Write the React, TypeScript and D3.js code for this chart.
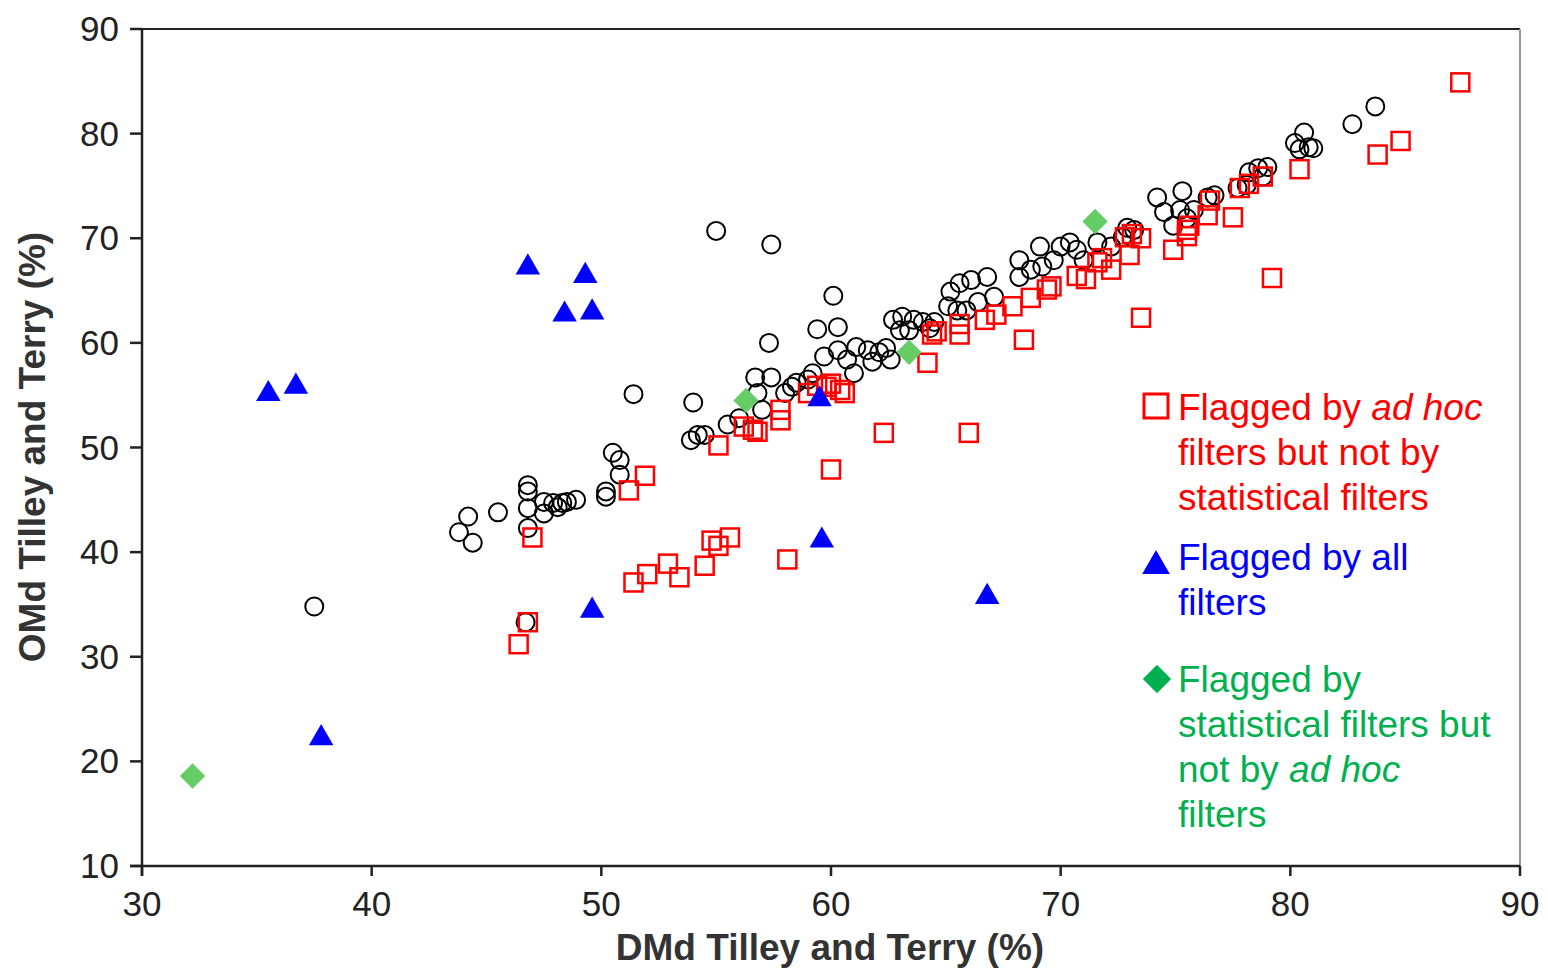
import React from "react";
import * as d3 from "d3";

// ---- Data ----
const xTicks = [30, 40, 50, 60, 70, 80, 90];
const yTicks = [10, 20, 30, 40, 50, 60, 70, 80, 90];

// Not flagged (black open circles): [DMd, OMd]
const unflagged: [number, number][] = [
  [37.5, 34.8], [43.8, 41.9], [44.2, 43.4], [44.4, 40.9], [45.5, 43.8],
  [46.8, 46.4], [46.8, 45.8], [46.8, 44.2], [46.8, 42.3], [46.7, 33.3],
  [47.5, 44.8], [47.5, 43.7], [47.9, 44.7], [48.1, 44.3], [48.3, 44.7],
  [48.5, 44.8], [48.9, 45.0], [50.2, 45.8], [50.2, 45.3], [50.5, 49.5],
  [50.8, 48.8], [50.8, 47.4], [51.4, 55.1], [53.9, 50.7], [54.2, 51.2],
  [54.5, 51.2], [54.0, 54.3], [55.0, 70.7], [55.5, 52.2], [56.0, 52.8],
  [56.7, 56.7], [57.4, 56.7], [56.8, 55.2], [57.0, 53.6], [57.4, 69.4],
  [57.3, 60.0], [58.0, 55.2], [58.3, 55.8], [59.0, 56.5], [58.5, 56.2],
  [59.2, 57.1], [59.7, 58.7], [59.4, 61.3], [60.3, 61.5], [60.1, 64.5],
  [60.3, 59.3], [60.7, 58.4], [61.0, 57.1], [61.1, 59.6], [61.6, 59.3],
  [61.8, 58.2], [62.1, 59.1], [62.4, 59.5], [62.6, 58.4], [62.7, 62.2],
  [63.1, 62.5], [63.6, 62.2], [64.0, 62.0], [63.0, 61.2], [63.4, 61.2],
  [64.5, 62.0], [64.3, 61.4], [65.2, 64.9], [65.6, 65.7], [65.1, 63.5],
  [65.5, 63.1], [66.1, 66.0], [66.8, 66.3], [66.4, 63.9], [67.1, 64.4],
  [65.9, 63.1], [68.2, 67.9], [68.7, 67.0], [68.2, 66.3], [69.2, 67.3],
  [69.1, 69.2], [69.7, 67.9], [70.0, 69.2], [70.4, 69.6], [70.7, 68.9],
  [71.0, 67.9], [71.6, 69.6], [72.2, 69.2], [72.7, 70.1], [73.2, 70.8],
  [72.9, 71.0], [74.2, 73.9], [75.3, 74.5], [74.5, 72.5], [75.2, 72.7],
  [74.9, 71.2], [75.5, 71.9], [75.8, 72.7], [76.4, 73.9], [76.7, 74.1],
  [77.7, 74.8], [78.1, 75.1], [78.2, 76.3], [78.6, 76.7], [79.0, 76.8],
  [78.8, 75.9], [80.6, 80.1], [80.2, 79.1], [80.8, 78.7], [80.4, 78.5],
  [81.0, 78.6], [82.7, 80.9], [83.7, 82.6],
];

// Flagged by ad hoc filters but not by statistical filters (red squares)
const adHocOnly: [number, number][] = [
  [46.4, 31.2], [46.8, 33.3], [47.0, 41.4], [51.2, 45.9], [51.9, 47.3],
  [51.4, 37.1], [52.0, 37.9], [52.9, 38.9], [53.4, 37.6], [54.5, 38.7],
  [54.8, 41.1], [55.1, 40.6], [55.6, 41.4], [55.1, 50.2], [56.2, 52.0],
  [56.6, 51.7], [56.8, 51.5], [57.8, 53.6], [57.8, 52.6], [58.1, 39.3],
  [59.0, 55.2], [59.4, 55.9], [59.8, 55.8], [60.0, 56.1], [60.4, 55.5],
  [60.6, 55.2], [60.0, 47.9], [62.3, 51.4], [64.2, 58.1], [64.4, 60.8],
  [64.6, 61.1], [65.6, 61.8], [65.6, 60.8], [66.0, 51.4], [66.7, 62.2],
  [67.2, 62.7], [67.9, 63.5], [68.4, 60.3], [68.7, 64.3], [69.4, 65.1],
  [69.6, 65.4], [70.7, 66.4], [71.1, 66.1], [71.6, 67.7], [72.2, 67.0],
  [71.8, 68.1], [73.0, 68.4], [72.8, 70.1], [73.1, 70.4], [73.5, 70.0],
  [73.5, 62.4], [74.9, 68.9], [75.5, 70.2], [75.6, 71.2], [75.5, 70.8],
  [76.4, 72.2], [76.5, 73.6], [77.5, 72.0], [77.8, 74.8], [78.2, 75.2],
  [78.8, 75.9], [79.2, 66.2], [80.4, 76.6], [83.8, 78.0], [84.8, 79.3],
  [87.4, 84.9],
];

// Flagged by all filters (blue triangles)
const allFilters: [number, number][] = [
  [35.5, 55.3], [36.7, 56.0], [37.8, 22.4], [46.8, 67.4], [49.3, 66.6],
  [48.4, 62.9], [49.6, 63.1], [49.6, 34.6], [59.5, 54.8], [59.6, 41.3],
  [66.8, 35.9],
];

// Flagged by statistical filters but not by ad hoc filters (green diamonds)
const statOnly: [number, number][] = [
  [32.2, 18.6], [56.3, 54.5], [63.4, 59.1], [71.5, 71.6],
];

const W = 1548;
const H = 968;
const M = { left: 142, right: 1520, top: 29, bottom: 866 };
const FONT = "Arial, 'Liberation Sans', Helvetica, sans-serif";

export default function App() {
  const x = d3.scaleLinear().domain([30, 90]).range([M.left, M.right]);
  const y = d3.scaleLinear().domain([10, 90]).range([M.bottom, M.top]);

  const tri = d3.symbol().type(d3.symbolTriangle).size(260)()!;
  const dia = d3.symbol().type(d3.symbolSquare).size(320)()!;
  const triLeg = d3.symbol().type(d3.symbolTriangle).size(330)()!;
  const diaLeg = d3.symbol().type(d3.symbolSquare).size(400)()!;
  const sq = 18;

  return (
    <svg
      width={W}
      height={H}
      style={{ position: "absolute", left: 0, top: 0, background: "#fff" }}
      fontFamily={FONT}
    >
      {/* frame */}
      <line x1={M.left} x2={M.right} y1={M.top} y2={M.top} stroke="#222" strokeWidth={2} />
      <line x1={M.right} x2={M.right} y1={M.top} y2={M.bottom} stroke="#999" strokeWidth={2} />
      <line x1={M.left} x2={M.left} y1={M.top} y2={M.bottom + 10} stroke="#222" strokeWidth={2.5} />
      <line x1={M.left - 12} x2={M.right} y1={M.bottom} y2={M.bottom} stroke="#222" strokeWidth={2.5} />

      {/* x ticks */}
      {xTicks.map((t) => (
        <g key={"x" + t}>
          <line x1={x(t)} x2={x(t)} y1={M.bottom} y2={M.bottom + 10} stroke="#222" strokeWidth={2.5} />
          <text x={x(t)} y={916} textAnchor="middle" fontSize={35} fill="#222">
            {t}
          </text>
        </g>
      ))}
      {/* y ticks */}
      {yTicks.map((t) => (
        <g key={"y" + t}>
          <line x1={M.left - 12} x2={M.left} y1={y(t)} y2={y(t)} stroke="#222" strokeWidth={2.5} />
          <text x={119} y={y(t) + 12} textAnchor="end" fontSize={35} fill="#222">
            {t}
          </text>
        </g>
      ))}

      {/* axis titles */}
      <text x={830} y={960} textAnchor="middle" fontSize={37} fontWeight="bold" fill="#333">
        DMd Tilley and Terry (%)
      </text>
      <text
        transform={`translate(45,447) rotate(-90)`}
        textAnchor="middle"
        fontSize={37}
        fontWeight="bold"
        fill="#333"
      >
        OMd Tilley and Terry (%)
      </text>

      {/* points */}
      <g>
        {unflagged.map((d, i) => (
          <circle key={"c" + i} cx={x(d[0])} cy={y(d[1])} r={9} fill="none" stroke="#000" strokeWidth={2} />
        ))}
      </g>
      <g>
        {adHocOnly.map((d, i) => (
          <rect
            key={"s" + i}
            x={x(d[0]) - sq / 2}
            y={y(d[1]) - sq / 2}
            width={sq}
            height={sq}
            fill="none"
            stroke="#FF0000"
            strokeWidth={2.5}
          />
        ))}
      </g>
      <g>
        {statOnly.map((d, i) => (
          <path
            key={"d" + i}
            d={dia}
            transform={`translate(${x(d[0])},${y(d[1])}) rotate(45)`}
            fill="#66CC66"
          />
        ))}
      </g>
      <g>
        {allFilters.map((d, i) => (
          <path key={"t" + i} d={tri} transform={`translate(${x(d[0])},${y(d[1]) + 2})`} fill="#0000FF" />
        ))}
      </g>

      {/* legend */}
      <g fontSize={37}>
        <rect x={1144} y={394} width={24} height={24} fill="none" stroke="#FF0000" strokeWidth={3} />
        <text x={1178} y={420} fill="#FF0000">
          Flagged by <tspan fontStyle="italic">ad hoc</tspan>
        </text>
        <text x={1178} y={465} fill="#FF0000">filters but not by</text>
        <text x={1178} y={510} fill="#FF0000">statistical filters</text>

        <path d={triLeg} transform="translate(1156,566)" fill="#0000FF" />
        <text x={1178} y={570} fill="#0000FF">Flagged by all</text>
        <text x={1178} y={615} fill="#0000FF">filters</text>

        <path d={diaLeg} transform="translate(1157,679) rotate(45)" fill="#00B050" />
        <text x={1178} y={692} fill="#00B050">Flagged by</text>
        <text x={1178} y={737} fill="#00B050">statistical filters but</text>
        <text x={1178} y={782} fill="#00B050">
          not by <tspan fontStyle="italic">ad hoc</tspan>
        </text>
        <text x={1178} y={827} fill="#00B050">filters</text>
      </g>
    </svg>
  );
}
